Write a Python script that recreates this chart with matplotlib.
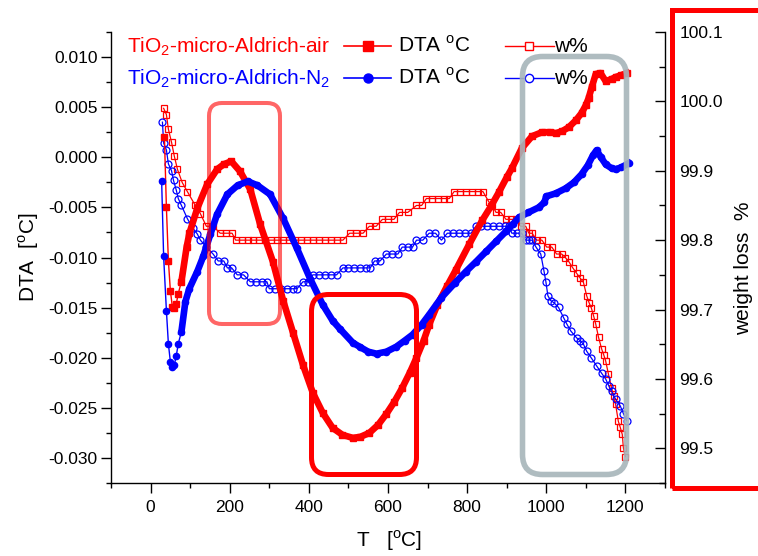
import numpy as np
import matplotlib
matplotlib.use("Agg")
import matplotlib.pyplot as plt
from matplotlib.patches import FancyBboxPatch, Rectangle
from matplotlib.lines import Line2D
from matplotlib.ticker import MultipleLocator, FormatStrFormatter

plt.rcParams['font.family'] = ['Liberation Sans', 'DejaVu Sans']
plt.rcParams['mathtext.fontset'] = 'custom'
plt.rcParams['mathtext.rm'] = 'Liberation Sans'
plt.rcParams['axes.unicode_minus'] = False

# DTA, air (filled squares)
t_dta_air = np.array([35, 40, 45, 50, 55, 60, 65, 70, 78, 91, 98, 118, 143, 168, 185, 204,
                      226, 252, 277, 309, 335, 360, 385, 410, 435, 460, 485, 511, 530, 553,
                      575, 596, 616, 636, 655, 672, 690, 704, 725, 750, 772, 805, 838, 860,
                      880, 900, 913, 938, 964, 989, 1010, 1024, 1040, 1057, 1075, 1089, 1100,
                      1107, 1115, 1125, 1137, 1150, 1165, 1175, 1190, 1203])
dta_air = np.array([0.0020, -0.0050, -0.0103, -0.0133, -0.0149, -0.0150, -0.0146, -0.0136,
                    -0.0124, -0.0090, -0.0076, -0.0051, -0.0027, -0.0012, -0.0007, -0.0004,
                    -0.0014, -0.0032, -0.0067, -0.0104, -0.0143, -0.0175, -0.0207, -0.0235,
                    -0.0255, -0.0270, -0.0277, -0.0280, -0.0279, -0.0275, -0.0267, -0.0256,
                    -0.0244, -0.0230, -0.0215, -0.0200, -0.0183, -0.0167, -0.0147, -0.0128,
                    -0.0112, -0.0087, -0.0063, -0.0049, -0.0035, -0.0020, -0.0011, 0.0009,
                    0.0021, 0.0025, 0.0025, 0.0024, 0.0026, 0.0030, 0.0037, 0.0044, 0.0052,
                    0.0059, 0.0070, 0.0083, 0.0084, 0.0076, 0.0078, 0.0080, 0.0082, 0.0084])

# DTA, N2 (filled circles)
t_dta_n2 = np.array([28, 33, 40, 45, 50, 55, 60, 65, 70, 78, 88, 98, 118, 133, 151, 168, 194,
                     220, 246, 270, 302, 335, 370, 403, 435, 460, 478, 511, 528, 550, 571, 596,
                     621, 642, 662, 685, 704, 735, 770, 797, 823, 848, 873, 898, 915, 931, 955,
                     981, 995, 1000, 1024, 1049, 1070, 1089, 1105, 1118, 1127, 1138, 1150, 1165,
                     1175, 1190, 1208])
dta_n2 = np.array([-0.0024, -0.0099, -0.0153, -0.0186, -0.0204, -0.0209, -0.0207, -0.0198,
                   -0.0186, -0.0174, -0.0144, -0.0131, -0.0114, -0.0099, -0.0077, -0.0057,
                   -0.0037, -0.0028, -0.0024, -0.0028, -0.0037, -0.0061, -0.0091, -0.0121,
                   -0.0147, -0.0163, -0.0171, -0.0185, -0.0189, -0.0194, -0.0196, -0.0194,
                   -0.0189, -0.0183, -0.0177, -0.0167, -0.0157, -0.0140, -0.0125, -0.0114,
                   -0.0104, -0.0094, -0.0084, -0.0074, -0.0067, -0.0060, -0.0055, -0.0050,
                   -0.0045, -0.0039, -0.0036, -0.0031, -0.0025, -0.0017, -0.0008, 0.0002,
                   0.0007, 0.0000, -0.0007, -0.0011, -0.0012, -0.0010, -0.0006])

# weight, air (open squares)
t_w_air = np.array([33, 40, 45, 53, 60, 68, 80, 93, 113, 126, 141, 158, 176, 190, 206, 215,
                    230, 245, 260, 275, 290, 305, 320, 335, 350, 365, 380, 395, 410, 425, 440,
                    455, 470, 486, 503, 520, 537, 553, 570, 586, 600, 615, 629, 650, 672, 685,
                    697, 712, 727, 742, 755, 767, 782, 797, 812, 827, 840, 855, 864, 873, 885,
                    898, 910, 923, 935, 948, 956, 964, 976, 989, 1001, 1014, 1026, 1039, 1048,
                    1057, 1067, 1077, 1086, 1094, 1102, 1108, 1114, 1120, 1125, 1132, 1140,
                    1145, 1150, 1157, 1165, 1170, 1175, 1182, 1187, 1192, 1195, 1200])
w_air = np.array([99.990, 99.981, 99.960, 99.941, 99.921, 99.902, 99.883, 99.870, 99.850,
                  99.838, 99.820, 99.820, 99.810, 99.810, 99.810, 99.800,
                  99.800, 99.800, 99.800, 99.800, 99.800, 99.800, 99.800, 99.800, 99.800,
                  99.800, 99.800, 99.800, 99.800, 99.800, 99.800, 99.800, 99.800, 99.800,
                  99.810, 99.810, 99.810, 99.820, 99.820, 99.830, 99.830, 99.830, 99.840,
                  99.840, 99.850, 99.850, 99.860, 99.860, 99.860, 99.860, 99.860, 99.870,
                  99.870, 99.870, 99.870, 99.870, 99.870, 99.855, 99.850, 99.840, 99.840,
                  99.830, 99.830, 99.830, 99.820, 99.820, 99.810, 99.810, 99.800, 99.800,
                  99.790, 99.790, 99.780, 99.780, 99.775, 99.769, 99.760, 99.752, 99.745,
                  99.739, 99.720, 99.710, 99.702, 99.690, 99.679, 99.660, 99.643, 99.635,
                  99.626, 99.607, 99.587, 99.575, 99.564, 99.539, 99.530, 99.520, 99.500,
                  99.488])

# weight, N2 (open circles)
t_w_n2 = np.array([30, 33, 40, 45, 53, 58, 65, 70, 78, 93, 106, 118, 126, 141, 158, 171, 185,
                   194, 205, 219, 235, 252, 267, 282, 294, 300, 315, 330, 345, 360, 370, 385,
                   398, 410, 425, 440, 455, 470, 486, 500, 515, 530, 545, 555, 566, 580, 596,
                   610, 625, 636, 650, 662, 672, 688, 704, 720, 735, 750, 765, 780, 795, 810,
                   822, 836, 850, 865, 880, 895, 906, 913, 925, 938, 948, 956, 964, 974, 986,
                   994, 999, 1004, 1011, 1019, 1031, 1044, 1052, 1062, 1077, 1086, 1094, 1102,
                   1114, 1127, 1140, 1150, 1158, 1165, 1175, 1187, 1195, 1203])
w_n2 = np.array([99.970, 99.940, 99.930, 99.910, 99.900, 99.886, 99.872, 99.860, 99.850,
                 99.831, 99.818, 99.809, 99.800, 99.790, 99.780, 99.770, 99.770, 99.760,
                 99.760, 99.750, 99.750, 99.740, 99.740, 99.740, 99.740, 99.730, 99.730,
                 99.730, 99.730, 99.730, 99.730, 99.740, 99.740, 99.750, 99.750, 99.750,
                 99.750, 99.750, 99.760, 99.760, 99.760, 99.760, 99.760, 99.760, 99.770,
                 99.770, 99.780, 99.780, 99.780, 99.790, 99.790, 99.790, 99.800, 99.800,
                 99.810, 99.810, 99.800, 99.810, 99.810, 99.810, 99.810, 99.810, 99.820,
                 99.820, 99.820, 99.820, 99.820, 99.820, 99.820, 99.810, 99.810, 99.810,
                 99.800, 99.800, 99.800, 99.790, 99.780, 99.756, 99.740, 99.720, 99.713,
                 99.710, 99.703, 99.688, 99.679, 99.669, 99.659, 99.655, 99.650, 99.640,
                 99.630, 99.619, 99.608, 99.600, 99.590, 99.582, 99.571, 99.561, 99.550,
                 99.540])

RED = '#ff0000'
BLUE = '#0000ff'
W, H = 758, 556


def inch(x, y):
    # pixel position measured from the top-left corner -> inches from bottom-left
    return x / 100, (H - y) / 100


fig = plt.figure(figsize=(W / 100, H / 100), dpi=100)
ax = fig.add_axes([111 / W, 1 - 483 / H, 554 / W, 451 / H])
ax2 = ax.twinx()
ax.set_zorder(ax2.get_zorder() + 1)
ax.patch.set_visible(False)

# weight loss curves (right axis)
ax2.plot(t_w_air, w_air, color=RED, lw=0.9, marker='s', ms=4.8, mfc='none', mec=RED, mew=0.9)
ax2.plot(t_w_n2, w_n2, color=BLUE, lw=0.9, marker='o', ms=5.0, mfc='none', mec=BLUE, mew=0.9)

# DTA curves; the measurement gets dense above ~80 C so the markers merge into a band
dense_air = t_dta_air >= 78
dense_n2 = t_dta_n2 >= 78
ax.plot(t_dta_air[dense_air], dta_air[dense_air], color=RED, lw=4.8)
ax.plot(t_dta_air, dta_air, color=RED, lw=1.0, marker='s', ms=4.0, mec=RED, mfc=RED)
ax.plot(t_dta_n2[dense_n2], dta_n2[dense_n2], color=BLUE, lw=4.8)
ax.plot(t_dta_n2, dta_n2, color=BLUE, lw=1.0, marker='o', ms=4.5, mec=BLUE, mfc=BLUE)

ax.set_xlim(-100, 1300)
ax.set_ylim(-0.0325, 0.0125)
ax.xaxis.set_major_locator(MultipleLocator(200))
ax.xaxis.set_minor_locator(MultipleLocator(100))
ax.yaxis.set_major_locator(MultipleLocator(0.005))
ax.yaxis.set_minor_locator(MultipleLocator(0.0025))
ax.yaxis.set_major_formatter(FormatStrFormatter('%.3f'))

ax2.set_ylim(99.45, 100.1)
ax2.set_yticks([99.5, 99.6, 99.7, 99.8, 99.9, 100.0, 100.1])
ax2.set_yticks([99.45, 99.55, 99.65, 99.75, 99.85, 99.95, 100.05], minor=True)
ax2.yaxis.set_major_formatter(FormatStrFormatter('%.1f'))

for a in (ax, ax2):
    a.spines['top'].set_visible(False)
    for s in a.spines.values():
        s.set_linewidth(1.0)
ax.spines['right'].set_visible(False)
ax2.spines['left'].set_visible(False)
ax2.spines['bottom'].set_visible(False)

ax.tick_params(which='major', direction='out', length=7, width=1, labelsize=12.5)
ax.tick_params(which='minor', direction='out', length=3.5, width=1)
ax.tick_params(axis='y', which='major', pad=2.5)
ax.tick_params(axis='x', which='major', pad=5)
ax.tick_params(top=False, right=False, which='both')
ax2.tick_params(axis='y', which='major', direction='in', length=7, width=1, pad=10.5,
                labelsize=12.5)
ax2.tick_params(axis='y', which='minor', direction='in', length=4.5, width=1)

# axis titles
fig.text(*inch(389, 541), r'T   [$^\mathregular{o}$C]', transform=fig.dpi_scale_trans,
         ha='center', va='center', fontsize=15)
fig.text(*inch(29, 257), r'DTA  [$^\mathregular{o}$C]', transform=fig.dpi_scale_trans,
         ha='center', va='center', rotation=90, fontsize=15)
fig.text(*inch(744, 268), 'weight loss  %', transform=fig.dpi_scale_trans,
         ha='center', va='center', rotation=90, fontsize=15)

# legend block
rows = [(52, 46, RED, r'TiO$_\mathregular{2}$-micro-Aldrich-air', 's'),
        (84, 78, BLUE, r'TiO$_\mathregular{2}$-micro-Aldrich-N$_\mathregular{2}$', 'o')]
for base, mid, col, name, m_dta in rows:
    fig.text(*inch(330, base), name, transform=fig.dpi_scale_trans, ha='right',
             va='baseline', color=col, fontsize=15)
    xs = [inch(344, mid)[0], inch(368, mid)[0], inch(391, mid)[0]]
    fig.add_artist(Line2D(xs, [inch(0, mid)[1]] * 3, transform=fig.dpi_scale_trans,
                          color=col, lw=1.2, marker=m_dta, ms=6.5, markevery=[1],
                          mfc=col, mec=col))
    fig.text(*inch(398, base), r'DTA $^\mathregular{o}$C', transform=fig.dpi_scale_trans,
             ha='left', va='baseline', fontsize=15)
    xs = [inch(505, mid)[0], inch(529, mid)[0], inch(554, mid)[0]]
    fig.add_artist(Line2D(xs, [inch(0, mid)[1]] * 3, transform=fig.dpi_scale_trans,
                          color=col, lw=1.0, marker='s' if col == RED else 'o', ms=6.0,
                          markevery=[1], mfc='white', mec=col, mew=1.0))
    fig.text(*inch(554, base), 'w%', transform=fig.dpi_scale_trans, ha='left',
             va='baseline', fontsize=15)


def rounded_box(left, top, right, bottom, radius, color, lw, alpha=1.0):
    x0, y0 = inch(left, bottom)
    x1, y1 = inch(right, top)
    box = FancyBboxPatch((x0, y0), x1 - x0, y1 - y0,
                         boxstyle=f"round,pad=0,rounding_size={radius / 100}",
                         transform=fig.dpi_scale_trans, fill=False, ec=color, lw=lw,
                         alpha=alpha, zorder=5)
    fig.add_artist(box)


# highlighted temperature ranges
rounded_box(209, 103, 280, 324, 13, RED, 2.9, alpha=0.6)
rounded_box(311.5, 294.5, 416.5, 474.5, 17, RED, 3.6)
rounded_box(522.5, 56.5, 626.5, 474.5, 20, '#a7b5ba', 4.0, alpha=0.9)

# frame around the weight-loss axis
fx0, fy0 = inch(671.5, 488)
fx1, fy1 = inch(830, 9.5)
fig.add_artist(Rectangle((fx0, fy0), fx1 - fx0, fy1 - fy0, transform=fig.dpi_scale_trans,
                         fill=False, ec=RED, lw=3.6, zorder=5))

fig.savefig('out.png', dpi=100)
